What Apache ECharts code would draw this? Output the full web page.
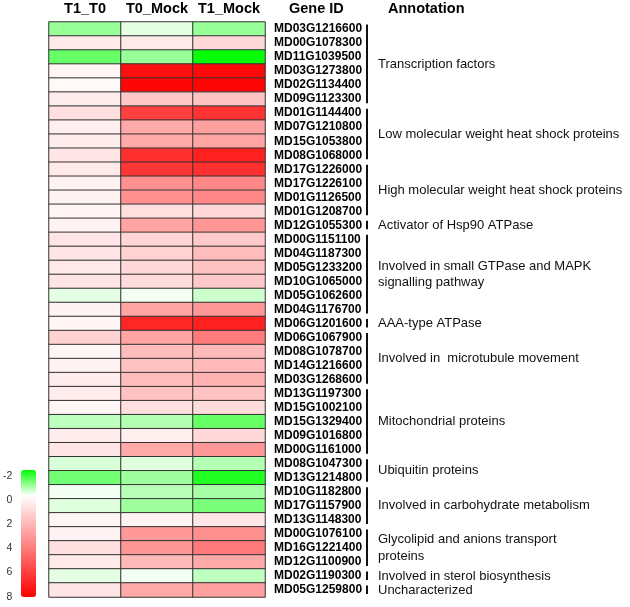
<!DOCTYPE html>
<html>
<head>
<meta charset="utf-8">
<script src="https://cdn.jsdelivr.net/npm/echarts@6/dist/echarts.min.js"></script>
<style>
html,body{margin:0;padding:0;background:#fff;}
#chart{width:630px;height:607px;}
</style>
</head>
<body>
<div id="chart"></div>
<script>
var columns = ['T1_T0', 'T0_Mock', 'T1_Mock'];
var genes = [
  'MD03G1216600','MD00G1078300','MD11G1039500','MD03G1273800','MD02G1134400','MD09G1123300',
  'MD01G1144400','MD07G1210800','MD15G1053800','MD08G1068000',
  'MD17G1226000','MD17G1226100','MD01G1126500','MD01G1208700',
  'MD12G1055300',
  'MD00G1151100','MD04G1187300','MD05G1233200','MD10G1065000','MD05G1062600','MD04G1176700',
  'MD06G1201600',
  'MD06G1067900','MD08G1078700','MD14G1216600','MD03G1268600',
  'MD13G1197300','MD15G1002100','MD15G1329400','MD09G1016800','MD00G1161000',
  'MD08G1047300','MD13G1214800',
  'MD10G1182800','MD17G1157900','MD13G1148300',
  'MD00G1076100','MD16G1221400','MD12G1100900',
  'MD02G1190300',
  'MD05G1259800'
];
var valuesT1T0 = [
  -0.8, 0.7, -1.2, 0.3, 0.2, 0.6,
  1.0, 0.5, 0.6, 0.8,
  0.7, 0.4, 0.4, 0.3,
  0.4,
  0.8, 0.8, 0.7, 0.8, -0.2, 0.4,
  0.3,
  1.4, 0.3, 0.4, 0.6,
  0.6, 0.3, -0.5, 0.6, 0.8,
  -0.3, -1.1,
  -0.1, -0.25, 0.3,
  0.4, 1.0, 0.7,
  -0.2,
  0.8
];
var valuesT0Mock = [
  -0.2, 0.7, -0.8, 7.5, 7.8, 1.7,
  6.0, 2.7, 2.7, 6.5,
  6.3, 3.5, 3.5, 1.0,
  2.9,
  1.3, 1.4, 1.2, 1.1, -0.1, 2.9,
  6.8,
  2.9, 2.1, 1.9, 2.1,
  1.9, 1.0, -0.6, 0.5, 2.7,
  -0.25, -0.75,
  -0.55, -0.75, 0.4,
  3.2, 3.3, 2.2,
  -0.1,
  2.7
];
var valuesT1Mock = [
  -0.8, 1.2, -1.95, 7.7, 7.8, 1.9,
  6.4, 3.0, 2.9, 7.0,
  6.5, 3.7, 3.7, 1.2,
  3.3,
  1.7, 2.1, 1.9, 1.7, -0.4, 3.2,
  7.0,
  4.2, 2.2, 2.2, 2.4,
  1.9, 1.1, -1.2, 1.2, 3.2,
  -0.6, -1.75,
  -0.7, -1.05, 0.8,
  3.5, 4.2, 2.7,
  -0.5,
  3.0
];
var annotations = [
  'Transcription factors',
  'Low molecular weight heat shock proteins',
  'High molecular weight heat shock proteins',
  'Activator of Hsp90 ATPase',
  'Involved in small GTPase and MAPK\nsignalling pathway',
  'AAA-type ATPase',
  'Involved in  microtubule movement',
  'Mitochondrial proteins',
  'Ubiquitin proteins',
  'Involved in carbohydrate metabolism',
  'Glycolipid and anions transport\nproteins',
  'Involved in sterol biosynthesis',
  'Uncharacterized'
];
var groupSizes = [6, 4, 4, 1, 6, 1, 4, 5, 2, 3, 3, 1, 1];
var legendTicks = [-2, 0, 2, 4, 6, 8];

var FONT = '"Liberation Sans", Arial, Helvetica, sans-serif';

var columnValues = [valuesT1T0, valuesT0Mock, valuesT1Mock];
var heatData = [];
columnValues.forEach(function (vals, c) {
  vals.forEach(function (v, r) { heatData.push([c, r, v]); });
});

var groupData = [];
var startIdx = 0;
groupSizes.forEach(function (n, g) {
  groupData.push([startIdx, startIdx + n - 1, g]);
  startIdx += n;
});

var chart = echarts.init(document.getElementById('chart'), null, {renderer: 'canvas'});

var option = {
  backgroundColor: '#fff',
  animation: false,
  textStyle: {fontFamily: FONT},
  grid: [
    {left: 49, top: 22, width: 216, height: 575},
    {left: 21, top: 476, width: 15, height: 120.7},
    {left: 367, top: 22, width: 250, height: 575}
  ],
  xAxis: [
    {
      gridIndex: 0, type: 'category', data: columns, position: 'top',
      axisLine: {show: false}, axisTick: {show: false}, splitLine: {show: false},
      axisLabel: {interval: 0, hideOverlap: false, fontFamily: FONT, fontSize: 14.5, fontWeight: 'bold', color: '#000', margin: 6}
    },
    {gridIndex: 1, type: 'value', show: false, min: 0, max: 1},
    {gridIndex: 2, type: 'value', show: false, min: 0, max: 1}
  ],
  yAxis: [
    {
      gridIndex: 0, type: 'category', data: genes, inverse: true, position: 'right',
      axisLine: {show: false}, axisTick: {show: false}, splitLine: {show: false},
      axisLabel: {interval: 0, hideOverlap: false, fontFamily: FONT, fontSize: 12, fontWeight: 'bold', color: '#000', margin: 9}
    },
    {
      gridIndex: 1, type: 'value', inverse: true,
      min: legendTicks[0], max: legendTicks[legendTicks.length - 1],
      interval: legendTicks[1] - legendTicks[0],
      axisLine: {show: false}, axisTick: {show: false}, splitLine: {show: false},
      axisLabel: {fontFamily: FONT, fontSize: 10.5, color: '#333', margin: 9}
    },
    {gridIndex: 2, type: 'category', data: genes, inverse: true, show: false}
  ],
  visualMap: {
    type: 'continuous',
    seriesIndex: 0,
    min: legendTicks[0], max: legendTicks[legendTicks.length - 1],
    inverse: true,
    calculable: false,
    hoverLink: false,
    orient: 'vertical',
    left: 21, top: 470,
    itemWidth: 15, itemHeight: 127,
    padding: 0,
    text: null,
    showLabel: false,
    inRange: {color: ['#00ff00', '#ffffff', '#ffbfbf', '#ff8080', '#ff4040', '#ff0000']}
  },
  graphic: [
    {type: 'text', left: 289, top: 1, style: {text: 'Gene ID', font: 'bold 14.5px ' + FONT, fill: '#000'}},
    {type: 'text', left: 388, top: 1, style: {text: 'Annotation', font: 'bold 14.5px ' + FONT, fill: '#000'}}
  ],
  series: [
    {
      type: 'heatmap', xAxisIndex: 0, yAxisIndex: 0, data: heatData,
      itemStyle: {borderColor: '#333', borderWidth: 1},
      emphasis: {disabled: true}, silent: true
    },
    {
      type: 'custom', xAxisIndex: 2, yAxisIndex: 2, data: groupData, silent: true,
      renderItem: function (params, api) {
        var s = api.value(0), e = api.value(1), g = api.value(2);
        var band = api.size([0, 1])[1];
        var p0 = api.coord([0, s]);
        var p1 = api.coord([0, e]);
        var top = p0[1] - band / 2 + 2.5;
        var bottom = p1[1] + band / 2 - 3;
        var x = p0[0];
        var mid = (p0[1] - band / 2 + p1[1] + band / 2) / 2;
        return {
          type: 'group',
          children: [
            {type: 'line', shape: {x1: x, y1: top, x2: x, y2: bottom}, style: {stroke: '#111', lineWidth: 2}},
            {type: 'text', x: x + 11, y: mid, style: {
              text: annotations[g], font: '13px ' + FONT, fill: '#111',
              textAlign: 'left', textVerticalAlign: 'middle', lineHeight: 16.5
            }}
          ]
        };
      }
    }
  ]
};
chart.setOption(option);
</script>
</body>
</html>
